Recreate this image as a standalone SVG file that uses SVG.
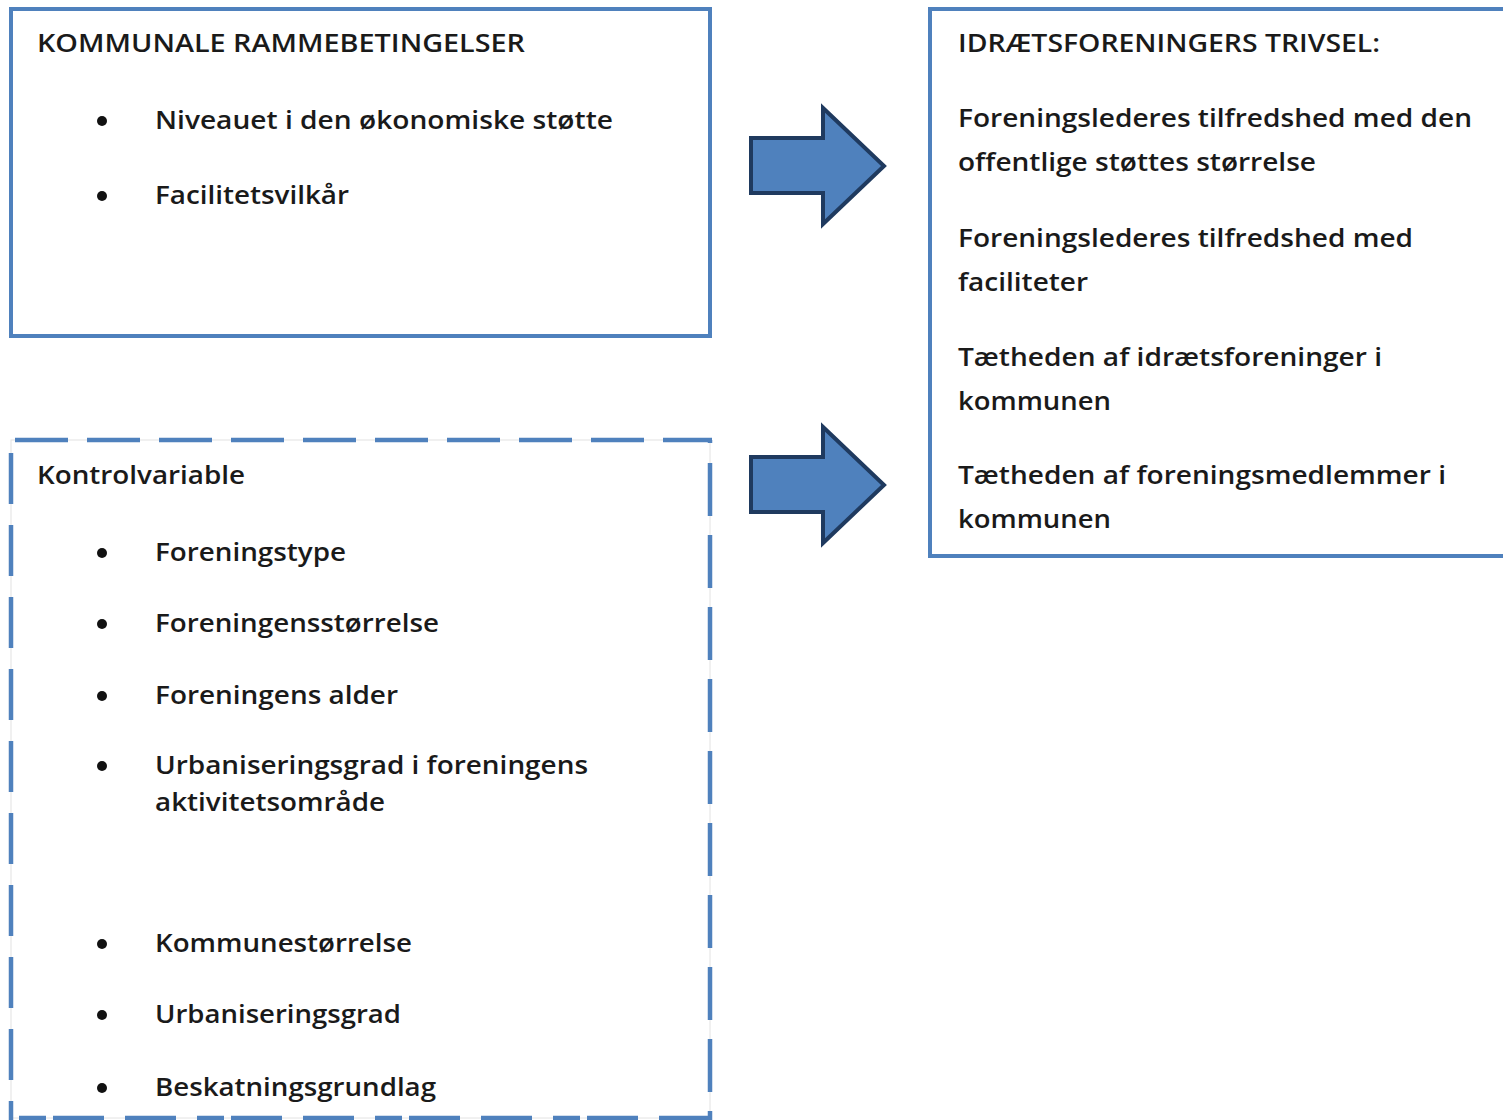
<svg xmlns="http://www.w3.org/2000/svg" width="1503" height="1120" viewBox="0 0 1503 1120">
<style>
.box{fill:#fff;stroke:#4F81BD;stroke-width:4}
.dash{fill:none;stroke:#4F81BD;stroke-width:4.5;stroke-dasharray:53 19}
.faint{fill:none;stroke:#e2e2e2;stroke-width:1}
.arrow{fill:#4F81BD;stroke:#1F3A5F;stroke-width:4;stroke-linejoin:miter}
text{font-family:"Open Sans","Liberation Sans",sans-serif;font-size:25px;font-weight:600;fill:#1a1a1a}
.b{fill:#111}
</style>
<rect width="1503" height="1120" fill="#fff"/>
<g id="kommunale">
<rect class="box" x="11" y="9" width="699" height="327"/>
<text x="37" y="52" textLength="488" lengthAdjust="spacingAndGlyphs">KOMMUNALE RAMMEBETINGELSER</text>
<circle class="b" cx="102" cy="121" r="5"/>
<text x="155" y="129" textLength="458" lengthAdjust="spacingAndGlyphs">Niveauet i den økonomiske støtte</text>
<circle class="b" cx="102" cy="196" r="5"/>
<text x="155" y="204" textLength="194" lengthAdjust="spacingAndGlyphs">Facilitetsvilkår</text>
</g>
<g id="trivsel">
<rect class="box" x="930" y="9" width="590" height="547"/>
<text x="958" y="52" textLength="422" lengthAdjust="spacingAndGlyphs">IDRÆTSFORENINGERS TRIVSEL:</text>
<text x="958" y="127" textLength="514" lengthAdjust="spacingAndGlyphs">Foreningslederes tilfredshed med den</text>
<text x="958" y="171" textLength="358" lengthAdjust="spacingAndGlyphs">offentlige støttes størrelse</text>
<text x="958" y="247" textLength="455" lengthAdjust="spacingAndGlyphs">Foreningslederes tilfredshed med</text>
<text x="958" y="291" textLength="130" lengthAdjust="spacingAndGlyphs">faciliteter</text>
<text x="958" y="366" textLength="424" lengthAdjust="spacingAndGlyphs">Tætheden af idrætsforeninger i</text>
<text x="958" y="410" textLength="153" lengthAdjust="spacingAndGlyphs">kommunen</text>
<text x="958" y="484" textLength="488" lengthAdjust="spacingAndGlyphs">Tætheden af foreningsmedlemmer i</text>
<text x="958" y="528" textLength="153" lengthAdjust="spacingAndGlyphs">kommunen</text>
</g>
<g id="kontrol">
<rect class="faint" x="11" y="440" width="699" height="678"/>
<line class="dash" x1="15" y1="440" x2="712" y2="440"/>
<line class="dash" x1="11" y1="453" x2="11" y2="1120" style="stroke-dasharray:51 21"/>
<line class="dash" x1="710" y1="440" x2="710" y2="1120" style="stroke-dasharray:3 20 53 19 53 19 53 19 53 19 53 19 53 19 53 19 53 19 53 19 53 19"/>
<line class="dash" x1="19" y1="1118" x2="710" y2="1118" style="stroke-dasharray:27 7 51 21 51 21"/>
<text x="37" y="484" textLength="208" lengthAdjust="spacingAndGlyphs">Kontrolvariable</text>
<circle class="b" cx="102" cy="553" r="5"/>
<text x="155" y="561" textLength="191" lengthAdjust="spacingAndGlyphs">Foreningstype</text>
<circle class="b" cx="102" cy="624" r="5"/>
<text x="155" y="632" textLength="284" lengthAdjust="spacingAndGlyphs">Foreningensstørrelse</text>
<circle class="b" cx="102" cy="696" r="5"/>
<text x="155" y="704" textLength="243" lengthAdjust="spacingAndGlyphs">Foreningens alder</text>
<circle class="b" cx="102" cy="766" r="5"/>
<text x="155" y="774" textLength="433" lengthAdjust="spacingAndGlyphs">Urbaniseringsgrad i foreningens</text>
<text x="155" y="811" textLength="230" lengthAdjust="spacingAndGlyphs">aktivitetsområde</text>
<circle class="b" cx="102" cy="944" r="5"/>
<text x="155" y="952" textLength="257" lengthAdjust="spacingAndGlyphs">Kommunestørrelse</text>
<circle class="b" cx="102" cy="1015" r="5"/>
<text x="155" y="1023" textLength="246" lengthAdjust="spacingAndGlyphs">Urbaniseringsgrad</text>
<circle class="b" cx="102" cy="1088" r="5"/>
<text x="155" y="1096" textLength="281" lengthAdjust="spacingAndGlyphs">Beskatningsgrundlag</text>
</g>
<g id="connectors">
<polygon class="arrow" points="751,138 823,138 823,108 884,166 823,224 823,193 751,193"/>
<polygon class="arrow" points="751,457 823,457 823,427 884,485 823,543 823,512 751,512"/>
</g>
</svg>
